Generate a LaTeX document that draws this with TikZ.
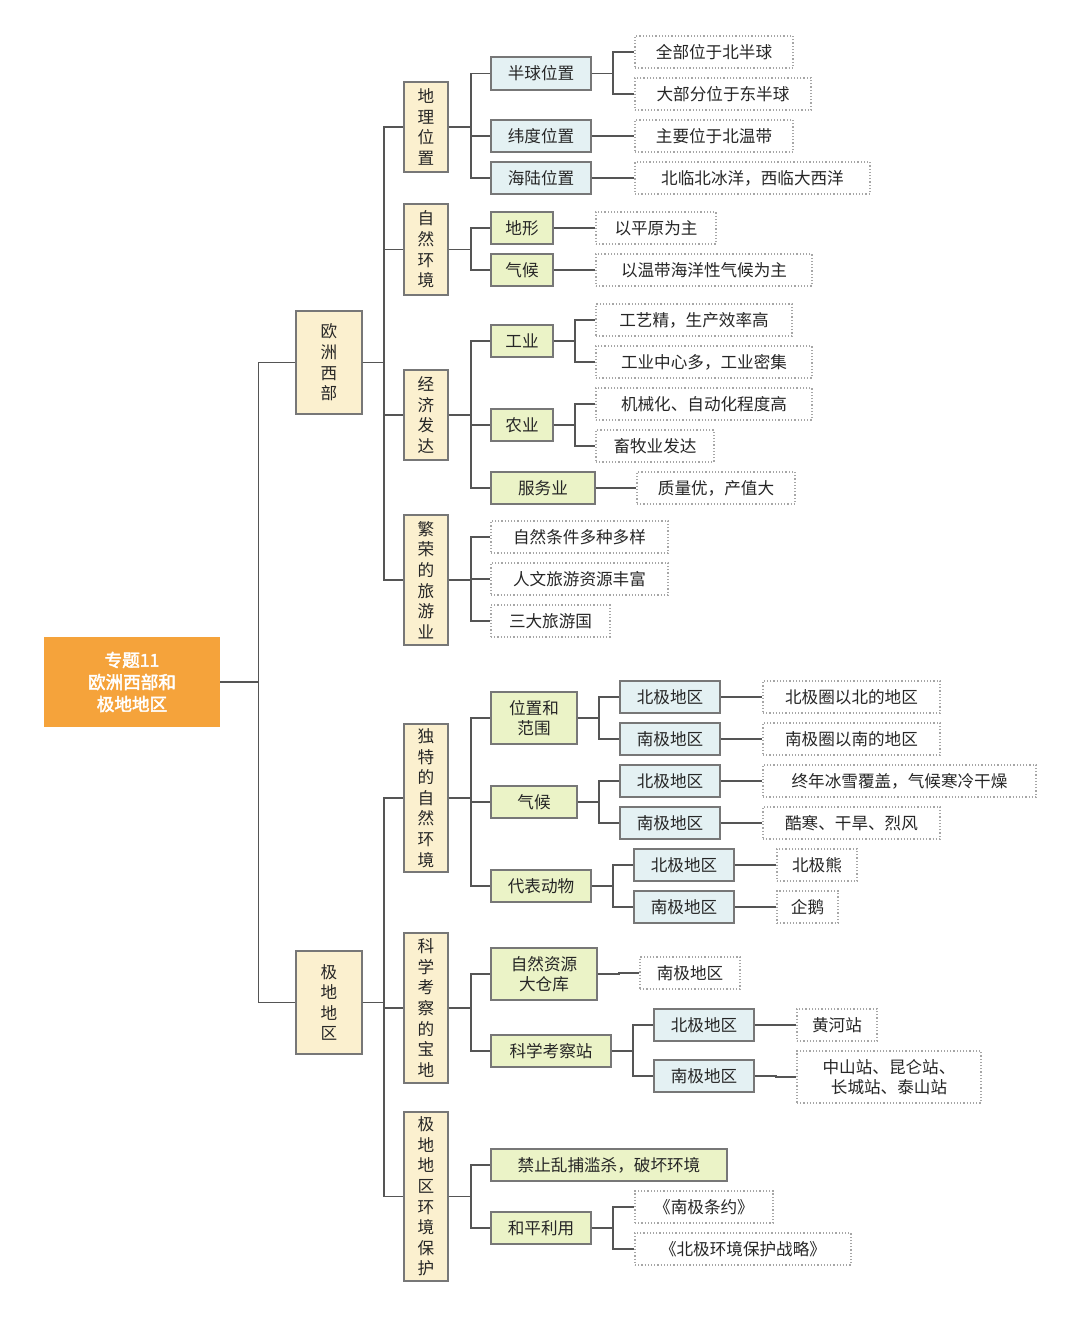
\documentclass[tikz,border=0pt]{standalone}
\usepackage{fontspec}
\newfontfamily\cjk{Noto Sans CJK SC}[AutoFakeBold=2.5]
\definecolor{beige}{HTML}{FBF0CF}
\definecolor{lblue}{HTML}{E4F1F3}
\definecolor{lgreen}{HTML}{EBF3C7}
\definecolor{orng}{HTML}{F5A33B}
\definecolor{edge}{HTML}{555555}
\newcommand\B[7]{\node[#2,minimum width={(#5-#3)*0.5pt},minimum height={(#6-#4)*0.5pt}] (#1) at ({(#3+#5)/2},{(#4+#6)/2}) {#7};}
\begin{document}
\begin{tikzpicture}[x=0.5pt,y=-0.5pt,
 every node/.style={font=\cjk\fontsize{8.3}{10.3}\selectfont,inner sep=0pt,align=center,text=black!85},
 base/.style={draw=edge!80,line width=0.7pt},
 bei/.style={base,fill=beige},
 blu/.style={base,fill=lblue},
 grn/.style={base,fill=lgreen},
 leaf/.style={draw=gray!70,densely dotted,line width=0.6pt,fill=white},
 root/.style={fill=orng,text=white,font=\cjk\bfseries\fontsize{8.8}{11}\selectfont},
 c/.style={draw=edge,line width=0.8pt}]
\useasboundingbox (0,0) rectangle (1080,1318);
\B{r}{root}{44}{637}{220}{727}{专题11\\欧洲西部和\\极地地区}
\B{a}{bei}{296}{311}{362}{414}{欧\\洲\\西\\部}
\B{b}{bei}{296}{951}{362}{1054}{极\\地\\地\\区}
\B{a1}{bei}{404}{82}{448}{172}{地\\理\\位\\置}
\B{a2}{bei}{404}{204}{448}{295}{自\\然\\环\\境}
\B{a3}{bei}{404}{370}{448}{460}{经\\济\\发\\达}
\B{a4}{bei}{404}{515}{448}{645}{繁\\荣\\的\\旅\\游\\业}
\B{b1}{bei}{404}{724}{448}{872}{独\\特\\的\\自\\然\\环\\境}
\B{b2}{bei}{404}{933}{448}{1083}{科\\学\\考\\察\\的\\宝\\地}
\B{b3}{bei}{404}{1112}{448}{1281}{极\\地\\地\\区\\环\\境\\保\\护}
% level 3
\B{a11}{blu}{491}{57}{591}{90}{半球位置}
\B{a12}{blu}{491}{120}{591}{152}{纬度位置}
\B{a13}{blu}{491}{162}{591}{194}{海陆位置}
\B{a21}{grn}{491}{212}{553}{244}{地形}
\B{a22}{grn}{491}{254}{553}{286}{气候}
\B{a31}{grn}{491}{325}{553}{357}{工业}
\B{a32}{grn}{491}{409}{553}{441}{农业}
\B{a33}{grn}{491}{472}{595}{504}{服务业}
\B{a41}{leaf}{491}{521}{668}{553}{自然条件多种多样}
\B{a42}{leaf}{491}{563}{668}{595}{人文旅游资源丰富}
\B{a43}{leaf}{491}{605}{610}{637}{三大旅游国}
\B{b11}{grn}{491}{692}{577}{744}{位置和\\范围}
\B{b12}{grn}{491}{786}{577}{818}{气候}
\B{b13}{grn}{491}{870}{591}{902}{代表动物}
\B{b21}{grn}{491}{948}{597}{1000}{自然资源\\大仓库}
\B{b22}{grn}{491}{1035}{611}{1067}{科学考察站}
\B{b31}{grn}{491}{1149}{727}{1181}{禁止乱捕滥杀，破坏环境}
\B{b32}{grn}{491}{1212}{591}{1244}{和平利用}
% level 4
\B{a111}{leaf}{635}{36}{793}{68}{全部位于北半球}
\B{a112}{leaf}{635}{78}{811}{110}{大部分位于东半球}
\B{a121}{leaf}{635}{120}{793}{152}{主要位于北温带}
\B{a131}{leaf}{635}{162}{870}{194}{北临北冰洋，西临大西洋}
\B{a211}{leaf}{596}{212}{716}{244}{以平原为主}
\B{a221}{leaf}{596}{254}{812}{286}{以温带海洋性气候为主}
\B{a311}{leaf}{596}{304}{792}{336}{工艺精，生产效率高}
\B{a312}{leaf}{596}{346}{812}{378}{工业中心多，工业密集}
\B{a321}{leaf}{596}{388}{812}{420}{机械化、自动化程度高}
\B{a322}{leaf}{596}{430}{714}{462}{畜牧业发达}
\B{a331}{leaf}{637}{472}{795}{504}{质量优，产值大}
\B{b111}{blu}{620}{681}{720}{713}{北极地区}
\B{b112}{blu}{620}{723}{720}{755}{南极地区}
\B{b121}{blu}{620}{765}{720}{797}{北极地区}
\B{b122}{blu}{620}{807}{720}{839}{南极地区}
\B{b131}{blu}{634}{849}{734}{881}{北极地区}
\B{b132}{blu}{634}{891}{734}{923}{南极地区}
\B{b211}{leaf}{640}{957}{740}{989}{南极地区}
\B{b221}{blu}{654}{1009}{754}{1041}{北极地区}
\B{b222}{blu}{654}{1060}{754}{1092}{南极地区}
\B{b321}{leaf}{635}{1191}{773}{1223}{《南极条约》}
\B{b322}{leaf}{635}{1233}{851}{1265}{《北极环境保护战略》}
% level 5
\B{c1}{leaf}{763}{681}{940}{713}{北极圈以北的地区}
\B{c2}{leaf}{763}{723}{940}{755}{南极圈以南的地区}
\B{c3}{leaf}{763}{765}{1036}{797}{终年冰雪覆盖，气候寒冷干燥}
\B{c4}{leaf}{763}{807}{940}{839}{酷寒、干旱、烈风}
\B{c5}{leaf}{777}{849}{857}{881}{北极熊}
\B{c6}{leaf}{777}{891}{838}{923}{企鹅}
\B{c7}{leaf}{797}{1009}{877}{1041}{黄河站}
\B{c8}{leaf}{797}{1051}{981}{1103}{中山站、昆仑站、\\长城站、泰山站}
% connectors
\foreach \p/\d/\cs in {r/38/{a,b}, a/21/{a1,a2,a3,a4}, b/21/{b1,b2,b3},
  a1/22/{a11,a12,a13}, a2/22/{a21,a22}, a3/22/{a31,a32,a33}, a4/22/{a41,a42,a43},
  b1/22/{b11,b12,b13}, b2/22/{b21,b22}, b3/22/{b31,b32},
  a11/21/{a111,a112}, a12/21/{a121}, a13/21/{a131}, a21/21/{a211}, a22/21/{a221},
  a31/21/{a311,a312}, a32/21/{a321,a322}, a33/21/{a331},
  b11/21/{b111,b112}, b12/21/{b121,b122}, b13/21/{b131,b132}, b21/21/{b211}, b22/21/{b221,b222},
  b32/21/{b321,b322},
  b111/21/{c1}, b112/21/{c2}, b121/21/{c3}, b122/21/{c4}, b131/21/{c5}, b132/21/{c6}, b221/21/{c7}, b222/21/{c8}}
  {\foreach \q in \cs {\draw[c] (\p.east) -- ++(\d,0) |- (\q.west);}}
\end{tikzpicture}
\end{document}
